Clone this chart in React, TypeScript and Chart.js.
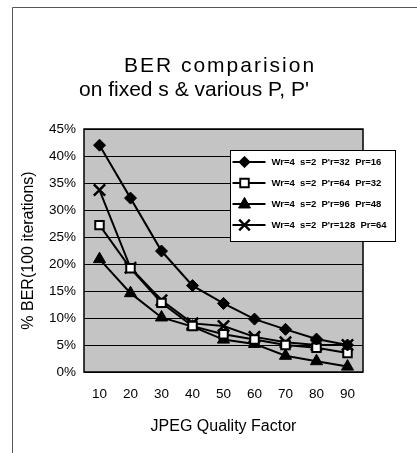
import React, { useEffect, useRef } from "react";
import { Chart, registerables } from "chart.js";

Chart.register(...registerables);

const categories = ["10", "20", "30", "40", "50", "60", "70", "80", "90"];
const seriesPr16 = [42, 32.2, 22.4, 16, 12.7, 9.8, 7.9, 6.1, 5];
const seriesPr32 = [27.2, 19.2, 12.8, 8.5, 7, 6, 5, 4.5, 3.5];
const seriesPr48 = [20.9, 14.6, 10.1, 8.4, 6, 5.2, 3, 2, 1];
const seriesPr64 = [33.7, 19.3, 13.3, 9, 8.5, 6.5, 5.5, 5, 5];
const seriesLabels = [
  "Wr=4  s=2  P'r=32  Pr=16",
  "Wr=4  s=2  P'r=64  Pr=32",
  "Wr=4  s=2  P'r=96  Pr=48",
  "Wr=4  s=2  P'r=128  Pr=64",
];
const titleLines = ["BER comparision", "on fixed s & various P, P'"];
const xTitle = "JPEG Quality Factor";
const yTitle = "% BER(100 iterations)";

const FONT = "'Liberation Sans', Arial, sans-serif";

type Mk = { style: string; radius: number; bg: string; bw: number };
const markers: Mk[] = [
  { style: "rectRot", radius: 6, bg: "#000", bw: 1 },
  { style: "rect", radius: 6, bg: "#fff", bw: 2 },
  { style: "triangle", radius: 7, bg: "#000", bw: 1 },
  { style: "crossRot", radius: 8, bg: "#000", bw: 2.5 },
];

function drawMarker(ctx: CanvasRenderingContext2D, m: Mk, x: number, y: number, scale: number) {
  const r = m.radius * scale;
  ctx.save();
  ctx.strokeStyle = "#000";
  ctx.fillStyle = m.bg;
  ctx.lineWidth = m.bw * scale;
  ctx.beginPath();
  if (m.style === "rectRot") {
    ctx.moveTo(x, y - r);
    ctx.lineTo(x + r, y);
    ctx.lineTo(x, y + r);
    ctx.lineTo(x - r, y);
    ctx.closePath();
    ctx.fill();
    ctx.stroke();
  } else if (m.style === "rect") {
    const s = r * 0.75;
    ctx.rect(x - s, y - s, 2 * s, 2 * s);
    ctx.fill();
    ctx.stroke();
  } else if (m.style === "triangle") {
    ctx.moveTo(x, y - r);
    ctx.lineTo(x + r * 0.9, y + r * 0.6);
    ctx.lineTo(x - r * 0.9, y + r * 0.6);
    ctx.closePath();
    ctx.fill();
    ctx.stroke();
  } else {
    const s = r * 0.7;
    ctx.moveTo(x - s, y - s);
    ctx.lineTo(x + s, y + s);
    ctx.moveTo(x + s, y - s);
    ctx.lineTo(x - s, y + s);
    ctx.stroke();
  }
  ctx.restore();
}

const framePlugin = {
  id: "frame",
  beforeDraw(chart: any) {
    const { ctx, chartArea: a } = chart;
    ctx.save();
    ctx.fillStyle = "#fff";
    ctx.fillRect(0, 0, chart.width, chart.height);
    ctx.fillStyle = "#c4c4c4";
    ctx.fillRect(a.left, a.top, a.right - a.left, a.bottom - a.top);
    ctx.strokeStyle = "#555";
    ctx.lineWidth = 1;
    ctx.beginPath();
    ctx.moveTo(12.5, 453);
    ctx.lineTo(12.5, 7.5);
    ctx.lineTo(417, 7.5);
    ctx.stroke();
    // title
    ctx.fillStyle = "#000";
    ctx.textAlign = "center";
    ctx.textBaseline = "alphabetic";
    ctx.font = `21px ${FONT}`;
    const spacing = ["2px", "0px"];
    const centers = [220, 194];
    titleLines.forEach((t, i) => {
      (ctx as any).letterSpacing = spacing[i];
      ctx.fillText(t, centers[i], 72 + i * 24);
    });
    (ctx as any).letterSpacing = "0px";
    ctx.restore();
  },
  beforeDatasetsDraw(chart: any) {
    const { ctx, chartArea: a } = chart;
    ctx.save();
    ctx.strokeStyle = "#000";
    ctx.lineWidth = 1.5;
    ctx.strokeRect(a.left, a.top, a.right - a.left, a.bottom - a.top);
    ctx.restore();
  },
  afterDraw(chart: any) {
    const ctx = chart.ctx as CanvasRenderingContext2D;
    const bx = 230.5, by = 150.5, bw = 165, bh = 91;
    ctx.save();
    ctx.fillStyle = "#fff";
    ctx.fillRect(bx, by, bw, bh);
    ctx.strokeStyle = "#000";
    ctx.lineWidth = 1;
    ctx.strokeRect(bx, by, bw, bh);
    ctx.font = `bold 9.5px ${FONT}`;
    ctx.textBaseline = "middle";
    ctx.fillStyle = "#000";
    seriesLabels.forEach((lab, i) => {
      const y = 162 + i * 21;
      ctx.beginPath();
      ctx.lineWidth = 2;
      ctx.moveTo(bx + 2, y);
      ctx.lineTo(bx + 35, y);
      ctx.stroke();
      drawMarker(ctx, markers[i], bx + 14, y, 0.95);
      ctx.fillText(lab, bx + 41, y);
    });
    ctx.restore();
  },
};

export default function App() {
  const ref = useRef<HTMLCanvasElement>(null);
  useEffect(() => {
    if (!ref.current) return;
    const all = [seriesPr16, seriesPr32, seriesPr48, seriesPr64];
    const chart = new Chart(ref.current, {
      type: "line",
      data: {
        labels: categories,
        datasets: all.map((d, i) => ({
          label: seriesLabels[i],
          data: d,
          borderColor: "#000",
          borderWidth: 2,
          tension: 0,
          pointStyle: markers[i].style as any,
          pointRadius: markers[i].radius,
          pointBackgroundColor: markers[i].bg,
          pointBorderColor: "#000",
          pointBorderWidth: markers[i].bw,
        })),
      },
      options: {
        animation: false,
        responsive: false,
        layout: { padding: { left: 14, right: 54, top: 129, bottom: 15 } },
        plugins: {
          legend: { display: false },
          tooltip: { enabled: false },
          title: { display: false },
        },
        scales: {
          x: {
            offset: true,
            grid: { display: false },
            border: { display: false },
            ticks: { color: "#000", font: { family: FONT, size: 13.5 }, padding: 6 },
            title: {
              display: true,
              text: xTitle,
              color: "#000",
              font: { family: FONT, size: 16 },
              padding: { top: 0, bottom: 2 },
            },
            afterFit: (s: any) => { s.height = 66; },
          },
          y: {
            min: 0,
            max: 45,
            grid: { color: "#000", lineWidth: 1, drawTicks: false },
            border: { display: false },
            ticks: {
              stepSize: 5,
              color: "#000",
              font: { family: FONT, size: 13.5 },
              padding: 8,
              callback: (v: any) => v + "%",
            },
            title: {
              display: true,
              text: yTitle,
              color: "#000",
              font: { family: FONT, size: 16 },
              padding: { top: 5, bottom: 0 },
            },
            afterFit: (s: any) => { s.width = 70; },
          },
        },
      },
      plugins: [framePlugin],
    });
    return () => chart.destroy();
  }, []);
  return (
    <div style={{ position: "fixed", left: 0, top: 0, width: 417, height: 453 }}>
      <canvas ref={ref} width={417} height={453} style={{ width: 417, height: 453, display: "block" }} />
    </div>
  );
}
